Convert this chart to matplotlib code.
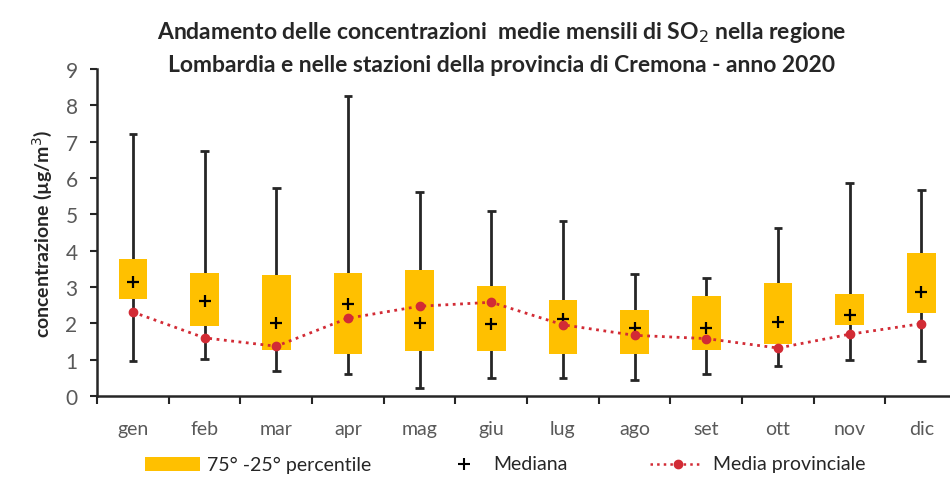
import matplotlib

matplotlib.use("Agg")

import matplotlib.pyplot as plt
import numpy as np
from matplotlib.lines import Line2D
from matplotlib.patches import Rectangle

MONTHS = ["gen", "feb", "mar", "apr", "mag", "giu", "lug", "ago", "set", "ott", "nov", "dic"]
MAX_VAL = [7.20, 6.73, 5.72, 8.27, 5.61, 5.08, 4.83, 3.35, 3.26, 4.63, 5.86, 5.67]
MIN_VAL = [0.95, 1.03, 0.68, 0.61, 0.22, 0.50, 0.50, 0.45, 0.60, 0.82, 0.98, 0.95]
P75 = [3.78, 3.38, 3.34, 3.38, 3.46, 3.04, 2.63, 2.38, 2.75, 3.11, 2.80, 3.93]
P25 = [2.66, 1.94, 1.26, 1.15, 1.23, 1.24, 1.15, 1.15, 1.26, 1.44, 1.96, 2.28]
MEDIAN = [3.15, 2.61, 2.01, 2.54, 2.01, 1.98, 2.11, 1.87, 1.87, 2.03, 2.22, 2.86]
MEAN = [2.31, 1.60, 1.37, 2.14, 2.47, 2.58, 1.96, 1.67, 1.58, 1.32, 1.70, 1.99]

GOLD = "#FFC000"
RED = "#D22B35"
DARK = "#262626"
GREY = "#595959"

plt.rcParams["font.family"] = ["Lato", "DejaVu Sans"]

fig = plt.figure(figsize=(9.5, 4.81), dpi=100)
ax = fig.add_axes([97 / 950, 84 / 481, 853 / 950, 327 / 481])

x = np.arange(len(MONTHS))
ax.vlines(x, MIN_VAL, MAX_VAL, color=DARK, linewidth=2, zorder=1)
ax.hlines(MIN_VAL, x - 0.06, x + 0.06, color=DARK, linewidth=2, zorder=1)
ax.hlines(MAX_VAL, x - 0.06, x + 0.06, color=DARK, linewidth=2, zorder=1)
ax.bar(x, np.subtract(P75, P25), bottom=P25, width=0.4, color=GOLD, zorder=2)
ax.plot(x, MEDIAN, linestyle="none", marker="+", color="black",
        markersize=9, markeredgewidth=1.6, zorder=3)
ax.plot(x, MEAN, linestyle=":", linewidth=2, color=RED, marker="o",
        markersize=6, zorder=4)

ax.set_xlim(-0.5, 11.4)
ax.set_ylim(0, 9)
ax.set_yticks(range(10))
ax.set_xticks(x)
ax.set_xticklabels(MONTHS)
ax.set_xticks(np.arange(-0.5, 11.5, 1), minor=True)
ax.tick_params(axis="x", which="major", length=0, pad=17, labelsize=14, labelcolor=GREY)
ax.tick_params(axis="x", which="minor", length=6, width=1.5, direction="out", color=DARK)
ax.tick_params(axis="y", length=5, width=1.5, color=DARK, labelsize=15, labelcolor=GREY, pad=9)
for side in ("top", "right"):
    ax.spines[side].set_visible(False)
for side in ("left", "bottom"):
    ax.spines[side].set_linewidth(1.8)
    ax.spines[side].set_color(DARK)

ax.set_ylabel("concentrazione (µg/m$^3$)", fontsize=14, fontweight="bold", color=DARK, labelpad=8)

fig.text(0.528, 0.932, "Andamento delle concentrazioni  medie mensili di SO$_2$ nella regione",
         ha="center", va="center", fontsize=16.5, fontweight="bold", color=DARK)
fig.text(0.528, 0.864, "Lombardia e nelle stazioni della provincia di Cremona - anno 2020",
         ha="center", va="center", fontsize=16.5, fontweight="bold", color=DARK)

# legend drawn by hand so the three entries sit where the original has them
leg_y = 1 - 465 / 481
fig.patches.append(Rectangle((145 / 950, 1 - 472 / 481), 55 / 950, 14 / 481,
                             transform=fig.transFigure, facecolor=GOLD, edgecolor="none"))
fig.text(207 / 950, leg_y, "75° -25° percentile", ha="left", va="center", fontsize=14, color=DARK)
fig.add_artist(Line2D([464 / 950], [leg_y], transform=fig.transFigure, linestyle="none",
                      marker="+", color="black", markersize=8, markeredgewidth=1.5))
fig.text(493 / 950, leg_y, "Mediana", ha="left", va="center", fontsize=14, color=DARK)
fig.add_artist(Line2D([650 / 950, 702 / 950], [leg_y, leg_y], transform=fig.transFigure,
                      linestyle=":", linewidth=1.8, color=RED))
fig.add_artist(Line2D([678 / 950], [leg_y], transform=fig.transFigure, linestyle="none",
                      marker="o", color=RED, markersize=6))
fig.text(713 / 950, leg_y, "Media provinciale", ha="left", va="center", fontsize=14, color=DARK)

fig.savefig("out.png", dpi=100)
